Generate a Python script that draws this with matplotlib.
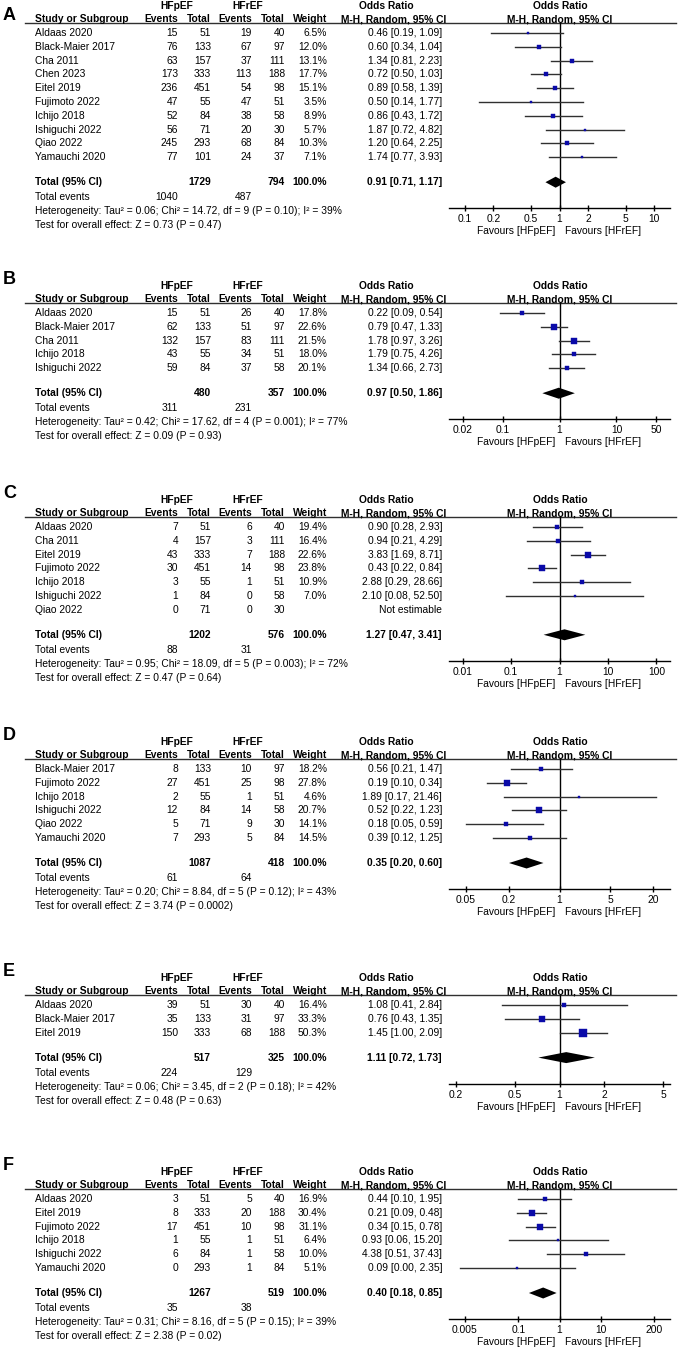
import numpy as np
import matplotlib
matplotlib.use('Agg')
import matplotlib.pyplot as plt
from matplotlib.ticker import NullLocator

plt.rcParams['font.family'] = ['Liberation Sans', 'DejaVu Sans']
FS = 7.4
BLUE = '#0A0AA8'
LINE = '#303030'

# ---- panel A ----
studies_a = ["Aldaas 2020", "Black-Maier 2017", "Cha 2011", "Chen 2023", "Eitel 2019",
             "Fujimoto 2022", "Ichijo 2018", "Ishiguchi 2022", "Qiao 2022", "Yamauchi 2020"]
ev_pef_a = [15, 76, 63, 173, 236, 47, 52, 56, 245, 77]
n_pef_a = [51, 133, 157, 333, 451, 55, 84, 71, 293, 101]
ev_ref_a = [19, 67, 37, 113, 54, 47, 38, 20, 68, 24]
n_ref_a = [40, 97, 111, 188, 98, 51, 58, 30, 84, 37]
w_a = [6.5, 12.0, 13.1, 17.7, 15.1, 3.5, 8.9, 5.7, 10.3, 7.1]
or_a = [0.46, 0.60, 1.34, 0.72, 0.89, 0.50, 0.86, 1.87, 1.20, 1.74]
lo_a = [0.19, 0.34, 0.81, 0.50, 0.58, 0.14, 0.43, 0.72, 0.64, 0.77]
hi_a = [1.09, 1.04, 2.23, 1.03, 1.39, 1.77, 1.72, 4.82, 2.25, 3.93]
total_a = [1729, 794, 0.91, 0.71, 1.17]
events_a = [1040, 487]
het_a = "Heterogeneity: Tau² = 0.06; Chi² = 14.72, df = 9 (P = 0.10); I² = 39%"
z_a = "Test for overall effect: Z = 0.73 (P = 0.47)"
ticks_a = [0.1, 0.2, 0.5, 1, 2, 5, 10]

# ---- panel B ----
studies_b = ["Aldaas 2020", "Black-Maier 2017", "Cha 2011", "Ichijo 2018", "Ishiguchi 2022"]
ev_pef_b = [15, 62, 132, 43, 59]
n_pef_b = [51, 133, 157, 55, 84]
ev_ref_b = [26, 51, 83, 34, 37]
n_ref_b = [40, 97, 111, 51, 58]
w_b = [17.8, 22.6, 21.5, 18.0, 20.1]
or_b = [0.22, 0.79, 1.78, 1.79, 1.34]
lo_b = [0.09, 0.47, 0.97, 0.75, 0.66]
hi_b = [0.54, 1.33, 3.26, 4.26, 2.73]
total_b = [480, 357, 0.97, 0.50, 1.86]
events_b = [311, 231]
het_b = "Heterogeneity: Tau² = 0.42; Chi² = 17.62, df = 4 (P = 0.001); I² = 77%"
z_b = "Test for overall effect: Z = 0.09 (P = 0.93)"
ticks_b = [0.02, 0.1, 1, 10, 50]

# ---- panel C ----
studies_c = ["Aldaas 2020", "Cha 2011", "Eitel 2019", "Fujimoto 2022", "Ichijo 2018",
             "Ishiguchi 2022", "Qiao 2022"]
ev_pef_c = [7, 4, 43, 30, 3, 1, 0]
n_pef_c = [51, 157, 333, 451, 55, 84, 71]
ev_ref_c = [6, 3, 7, 14, 1, 0, 0]
n_ref_c = [40, 111, 188, 98, 51, 58, 30]
w_c = [19.4, 16.4, 22.6, 23.8, 10.9, 7.0, np.nan]
or_c = [0.90, 0.94, 3.83, 0.43, 2.88, 2.10, np.nan]
lo_c = [0.28, 0.21, 1.69, 0.22, 0.29, 0.08, np.nan]
hi_c = [2.93, 4.29, 8.71, 0.84, 28.66, 52.50, np.nan]
total_c = [1202, 576, 1.27, 0.47, 3.41]
events_c = [88, 31]
het_c = "Heterogeneity: Tau² = 0.95; Chi² = 18.09, df = 5 (P = 0.003); I² = 72%"
z_c = "Test for overall effect: Z = 0.47 (P = 0.64)"
ticks_c = [0.01, 0.1, 1, 10, 100]

# ---- panel D ----
studies_d = ["Black-Maier 2017", "Fujimoto 2022", "Ichijo 2018", "Ishiguchi 2022",
             "Qiao 2022", "Yamauchi 2020"]
ev_pef_d = [8, 27, 2, 12, 5, 7]
n_pef_d = [133, 451, 55, 84, 71, 293]
ev_ref_d = [10, 25, 1, 14, 9, 5]
n_ref_d = [97, 98, 51, 58, 30, 84]
w_d = [18.2, 27.8, 4.6, 20.7, 14.1, 14.5]
or_d = [0.56, 0.19, 1.89, 0.52, 0.18, 0.39]
lo_d = [0.21, 0.10, 0.17, 0.22, 0.05, 0.12]
hi_d = [1.47, 0.34, 21.46, 1.23, 0.59, 1.25]
total_d = [1087, 418, 0.35, 0.20, 0.60]
events_d = [61, 64]
het_d = "Heterogeneity: Tau² = 0.20; Chi² = 8.84, df = 5 (P = 0.12); I² = 43%"
z_d = "Test for overall effect: Z = 3.74 (P = 0.0002)"
ticks_d = [0.05, 0.2, 1, 5, 20]

# ---- panel E ----
studies_e = ["Aldaas 2020", "Black-Maier 2017", "Eitel 2019"]
ev_pef_e = [39, 35, 150]
n_pef_e = [51, 133, 333]
ev_ref_e = [30, 31, 68]
n_ref_e = [40, 97, 188]
w_e = [16.4, 33.3, 50.3]
or_e = [1.08, 0.76, 1.45]
lo_e = [0.41, 0.43, 1.00]
hi_e = [2.84, 1.35, 2.09]
total_e = [517, 325, 1.11, 0.72, 1.73]
events_e = [224, 129]
het_e = "Heterogeneity: Tau² = 0.06; Chi² = 3.45, df = 2 (P = 0.18); I² = 42%"
z_e = "Test for overall effect: Z = 0.48 (P = 0.63)"
ticks_e = [0.2, 0.5, 1, 2, 5]

# ---- panel F ----
studies_f = ["Aldaas 2020", "Eitel 2019", "Fujimoto 2022", "Ichijo 2018",
             "Ishiguchi 2022", "Yamauchi 2020"]
ev_pef_f = [3, 8, 17, 1, 6, 0]
n_pef_f = [51, 333, 451, 55, 84, 293]
ev_ref_f = [5, 20, 10, 1, 1, 1]
n_ref_f = [40, 188, 98, 51, 58, 84]
w_f = [16.9, 30.4, 31.1, 6.4, 10.0, 5.1]
or_f = [0.44, 0.21, 0.34, 0.93, 4.38, 0.09]
lo_f = [0.10, 0.09, 0.15, 0.06, 0.51, 0.0037]
hi_f = [1.95, 0.48, 0.78, 15.20, 37.43, 2.35]
total_f = [1267, 519, 0.40, 0.18, 0.85]
events_f = [35, 38]
het_f = "Heterogeneity: Tau² = 0.31; Chi² = 8.16, df = 5 (P = 0.15); I² = 39%"
z_f = "Test for overall effect: Z = 2.38 (P = 0.02)"
ticks_f = [0.005, 0.1, 1, 10, 200]

W, H = 680, 1350
fig = plt.figure(figsize=(6.8, 13.5), dpi=100)
main = fig.add_axes([0, 0, 1, 1])
main.set_xlim(0, W)
main.set_ylim(H, 0)
main.axis('off')

# column x positions (pixels)
X_STUDY, X_E1, X_N1, X_E2, X_N2, X_W, X_CI = 35, 178, 211, 252, 285, 327, 442
FX0, FX1 = 449, 670
STEP = 13.8


def txt(x, y, s, ha='left', bold=False, size=FS):
    main.text(x, y, s, ha=ha, va='center', fontsize=size,
              fontweight='bold' if bold else 'normal', color='black')


def ci_str(o, l, h):
    return f"{o:.2f} [{l:.2f}, {h:.2f}]"


def draw_panel(label, label_y, base, half, studies, e1, n1, e2, n2, w, orr, lo, hi,
               tot, evs, het, zt, ticks):
    main.text(3, label_y, label, ha='left', va='center', fontsize=13, fontweight='bold')
    txt(177, base, 'HFpEF', 'center', True)
    txt(248, base, 'HFrEF', 'center', True)
    txt(386, base, 'Odds Ratio', 'center', True)
    txt(560, base, 'Odds Ratio', 'center', True)
    y2 = base + 13
    txt(X_STUDY, y2, 'Study or Subgroup', bold=True)
    txt(X_E1, y2, 'Events', 'right', True)
    txt(X_N1, y2, 'Total', 'right', True)
    txt(X_E2, y2, 'Events', 'right', True)
    txt(X_N2, y2, 'Total', 'right', True)
    txt(X_W, y2, 'Weight', 'right', True)
    txt(394, y2, 'M-H, Random, 95% CI', 'center', True)
    txt(560, y2, 'M-H, Random, 95% CI', 'center', True)
    top = base + 16.5
    main.plot([25, 676], [top, top], color=LINE, lw=1.0)

    first = base + 27
    n = len(studies)
    ys = [first + i * STEP for i in range(n)]
    total_y = ys[-1] + 25
    te_y = total_y + 15
    het_y = te_y + 14
    test_y = het_y + 14
    axis_y = het_y - 3

    for i in range(n):
        y = ys[i]
        txt(X_STUDY, y, studies[i])
        txt(X_E1, y, str(e1[i]), 'right')
        txt(X_N1, y, str(n1[i]), 'right')
        txt(X_E2, y, str(e2[i]), 'right')
        txt(X_N2, y, str(n2[i]), 'right')
        if np.isnan(w[i]):
            txt(X_CI, y, 'Not estimable', 'right')
        else:
            txt(X_W, y, f"{w[i]:.1f}%", 'right')
            txt(X_CI, y, ci_str(orr[i], lo[i], hi[i]), 'right')

    txt(X_STUDY, total_y, 'Total (95% CI)', bold=True)
    txt(X_N1, total_y, str(tot[0]), 'right', True)
    txt(X_N2, total_y, str(tot[1]), 'right', True)
    txt(X_W, total_y, '100.0%', 'right', True)
    txt(X_CI, total_y, ci_str(tot[2], tot[3], tot[4]), 'right', True)
    txt(X_STUDY, te_y, 'Total events')
    txt(X_E1, te_y, str(evs[0]), 'right')
    txt(X_E2, te_y, str(evs[1]), 'right')
    txt(X_STUDY, het_y, het)
    txt(X_STUDY, test_y, zt)
    txt(555, axis_y + 23, 'Favours [HFpEF]', 'right')
    txt(565, axis_y + 23, 'Favours [HFrEF]', 'left')

    ax = fig.add_axes([FX0 / W, 1 - axis_y / H, (FX1 - FX0) / W, (axis_y - top) / H])
    ax.set_xscale('log')
    ax.set_xlim(10 ** -half, 10 ** half)
    ax.set_ylim(axis_y, top)
    ax.patch.set_alpha(0)
    for s in ['top', 'left', 'right']:
        ax.spines[s].set_visible(False)
    ax.spines['bottom'].set_linewidth(1.0)
    ax.set_yticks([])
    ax.set_xticks(ticks)
    ax.set_xticklabels([f"{t:g}" for t in ticks])
    ax.xaxis.set_minor_locator(NullLocator())
    ax.tick_params(axis='x', direction='inout', length=5, width=1, pad=2,
                   labelsize=FS)
    ax.axvline(1, color='black', lw=1.0)

    for i in range(n):
        if np.isnan(orr[i]):
            continue
        ax.plot([lo[i], hi[i]], [ys[i], ys[i]], color=LINE, lw=1.0, zorder=2)
        side = max(1.1 * np.sqrt(w[i]), 1.5) * 0.72
        ax.plot(orr[i], ys[i], marker='s', ms=side, color=BLUE, mec=BLUE,
                mew=0.3, zorder=3)
    ax.fill([tot[3], tot[2], tot[4], tot[2]],
            [total_y, total_y - 5.5, total_y, total_y + 5.5],
            color='black', lw=0, zorder=3)


draw_panel('A', 15, 6, 1.17, studies_a, ev_pef_a, n_pef_a, ev_ref_a, n_ref_a, w_a,
           or_a, lo_a, hi_a, total_a, events_a, het_a, z_a, ticks_a)
draw_panel('B', 279, 286, 1.94, studies_b, ev_pef_b, n_pef_b, ev_ref_b, n_ref_b, w_b,
           or_b, lo_b, hi_b, total_b, events_b, het_b, z_b, ticks_b)
draw_panel('C', 494, 500, 2.28, studies_c, ev_pef_c, n_pef_c, ev_ref_c, n_ref_c, w_c,
           or_c, lo_c, hi_c, total_c, events_c, het_c, z_c, ticks_c)
draw_panel('D', 735, 742, 1.53, studies_d, ev_pef_d, n_pef_d, ev_ref_d, n_ref_d, w_d,
           or_d, lo_d, hi_d, total_d, events_d, het_d, z_d, ticks_d)
draw_panel('E', 971, 978, 0.744, studies_e, ev_pef_e, n_pef_e, ev_ref_e, n_ref_e, w_e,
           or_e, lo_e, hi_e, total_e, events_e, het_e, z_e, ticks_e)
draw_panel('F', 1165, 1172, 2.69, studies_f, ev_pef_f, n_pef_f, ev_ref_f, n_ref_f, w_f,
           or_f, lo_f, hi_f, total_f, events_f, het_f, z_f, ticks_f)

fig.savefig('out.png', dpi=100, facecolor='white')
